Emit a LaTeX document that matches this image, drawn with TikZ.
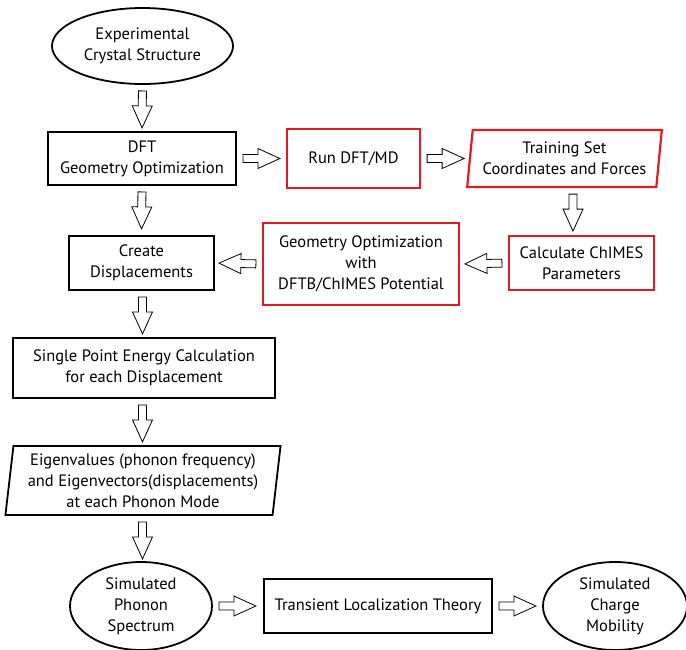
\documentclass[tikz,border=0pt]{standalone}
\usepackage{fontspec}
\setmainfont{PT Sans}
\usetikzlibrary{shapes.geometric,calc}
\definecolor{myred}{RGB}{226,27,35}
\tikzset{
  txt/.style={align=center, font=\fontsize{16.5}{21}\selectfont, inner sep=0pt},
  bbox/.style={txt, draw=black, line width=1.8pt, rectangle},
  rbox/.style={txt, draw=myred, line width=2.2pt, rectangle},
  oval/.style={txt, draw=black, line width=1.8pt, ellipse},
  para/.style={txt, trapezium, trapezium stretches=true, line width=1.8pt},
  barrow/.style={draw=black, line width=0.8pt, fill=white, to path={
    let \p1=($(\tikztostart)!6pt!(\tikztotarget)$),
        \p2=($(\tikztostart)!43pt!(\tikztotarget)$),
        \p3=($(\p1)!15pt!(\p2)$)
    in ($(\p1)!4pt!90:(\p2)$) -- ($(\p3)!4pt!90:(\p2)$) -- ($(\p3)!10pt!90:(\p2)$)
       -- (\p2) -- ($(\p3)!10pt!-90:(\p2)$) -- ($(\p3)!4pt!-90:(\p2)$)
       -- ($(\p1)!4pt!-90:(\p2)$) -- cycle}}
}
\begin{document}
\begin{tikzpicture}[x=1pt,y=-1pt]
\useasboundingbox (0,0) rectangle (686,649);
\node[oval, minimum width=181pt, minimum height=76pt] (e1) at (142.5,46) {Experimental\\Crystal Structure};
\node[bbox, minimum width=188pt, minimum height=53pt] (dft) at (142,158.5) {DFT\\Geometry Optimization};
\node[rbox, minimum width=133pt, minimum height=59pt] (run) at (353.5,158.5) {Run DFT/MD};
\node[para, draw=myred, line width=2.2pt, trapezium left angle=81.5, trapezium right angle=98.5, minimum width=195pt, minimum height=57pt] (train) at (564.5,158.5) {Training Set\\Coordinates and Forces};
\node[rbox, minimum width=145pt, minimum height=54pt] (calc) at (581.5,263) {Calculate ChIMES\\Parameters};
\node[rbox, minimum width=196pt, minimum height=82pt] (geo) at (361,264) {Geometry Optimization\\with\\DFTB/ChIMES Potential};
\node[bbox, minimum width=145pt, minimum height=54pt] (create) at (141.5,263) {Create\\Displacements};
\node[bbox, minimum width=262pt, minimum height=60pt] (single) at (144,368) {Single Point Energy Calculation\\for each Displacement};
\node[para, draw=black, trapezium left angle=82.5, trapezium right angle=97.5, minimum width=276pt, minimum height=69pt] (eig) at (143,480.5) {Eigenvalues (phonon frequency)\\and Eigenvectors(displacements)\\at each Phonon Mode};
\node[oval, minimum width=142pt, minimum height=88pt] (ph) at (141,606) {Simulated\\Phonon\\Spectrum};
\node[bbox, minimum width=228pt, minimum height=54pt] (tl) at (378,606) {Transient Localization Theory};
\node[oval, minimum width=144pt, minimum height=88pt] (ch) at (615,606) {Simulated\\Charge\\Mobility};
\coordinate (t5) at ([xshift=8.5pt]train.south);
\coordinate (c5) at ([xshift=-8.5pt]calc.north);
\coordinate (c8) at (create.south -| e1.south);
\draw[barrow] (e1.south) to (dft.north);
\draw[barrow] (dft.south) to (create.north);
\draw[barrow] (dft.east) to (run.west);
\draw[barrow] (run.east) to (train.west);
\draw[barrow] (t5) to (c5);
\draw[barrow] (calc.west) to (geo.east);
\draw[barrow] (geo.west) to (create.east);
\draw[barrow] (c8) to (c8 |- single.north);
\draw[barrow] (single.south -| e1.south) to (e1.south |- eig.north);
\draw[barrow] (eig.south -| e1.south) to (e1.south |- ph.north);
\draw[barrow] (ph.east) to (tl.west);
\draw[barrow] (tl.east) to (ch.west);
\end{tikzpicture}
\end{document}
